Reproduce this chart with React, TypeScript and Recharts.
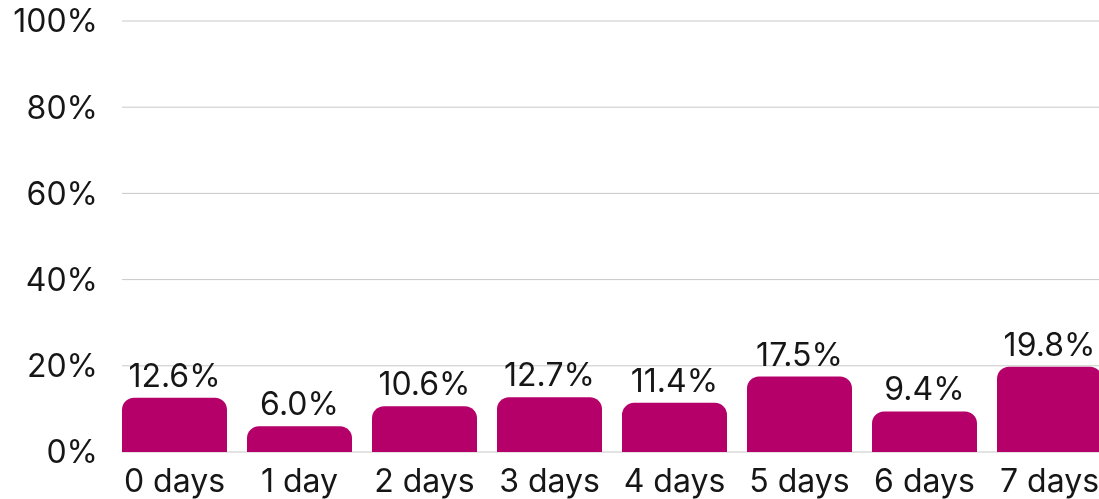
import React from "react";
import { BarChart, Bar, XAxis, YAxis, CartesianGrid, LabelList } from "recharts";

const categories = ["0 days", "1 day", "2 days", "3 days", "4 days", "5 days", "6 days", "7 days"];
const values = [12.6, 6.0, 10.6, 12.7, 11.4, 17.5, 9.4, 19.8];
const yTicks = [0, 20, 40, 60, 80, 100];

const data = categories.map((c, i) => ({ name: c, value: values[i] }));

const FONT = "Inter, 'Open Sans', sans-serif";
const FS = 32;

export default function App() {
  return (
    <div style={{ position: "fixed", left: 0, top: 0, width: 1112, height: 499, fontFamily: FONT }}>
      <BarChart
        width={1112}
        height={499}
        data={data}
        margin={{ top: 21, right: 0, bottom: 17, left: 0 }}
        barSize={105}
      >
        <CartesianGrid vertical={false} stroke="#c8c8c8" strokeWidth={1} />
        <XAxis
          dataKey="name"
          height={30}
          axisLine={false}
          tickLine={false}
          tickSize={0}
          tickMargin={17}
          padding={{ left: -10, right: 0 }}
          interval={0}
          tick={{ fill: "#161616", fontSize: FS, fontFamily: FONT }}
        />
        <YAxis
          width={122}
          domain={[0, 100]}
          ticks={yTicks}
          axisLine={false}
          tickLine={false}
          tickSize={0}
          tickMargin={24}
          tickFormatter={(v: number) => `${v}%`}
          tick={{ fill: "#161616", fontSize: FS, fontFamily: FONT }}
        />
        <Bar dataKey="value" fill="#b5006a" radius={[12, 12, 0, 0]} isAnimationActive={false}>
          <LabelList
            dataKey="value"
            position="top"
            offset={11}
            formatter={(v: number) => `${v.toFixed(1)}%`}
            style={{ fill: "#161616", fontSize: FS, fontFamily: FONT }}
          />
        </Bar>
      </BarChart>
    </div>
  );
}
